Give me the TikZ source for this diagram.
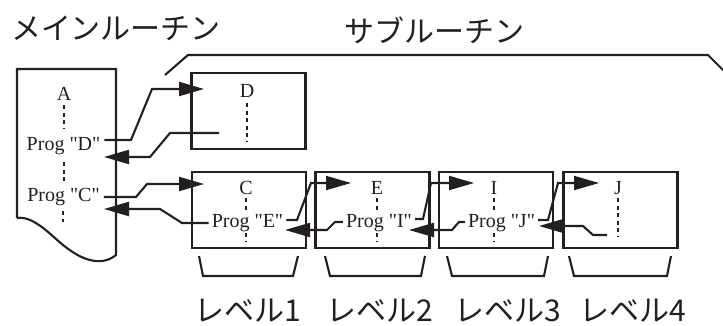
\documentclass[tikz,border=0pt]{standalone}
\usepackage{fontspec}
\setmainfont{Liberation Serif}[Ligatures=TeXOff]
\newfontfamily\jp{Noto Sans CJK JP}
\usetikzlibrary{arrows.meta}
\definecolor{ink}{HTML}{231F20}
\tikzset{
  ln/.style={draw=ink, line width=2.1pt, line join=miter},
  arr/.style={ln, -{Triangle[length=25pt,width=14pt]}},
  dots/.style={draw=ink, line width=2.1pt, dash pattern=on 4pt off 3.5pt},
  txt/.style={inner sep=0pt, anchor=base, font=\fontsize{20}{22}\selectfont, text=ink},
  jtxt/.style={inner sep=0pt, font=\jp\fontsize{30}{32}\selectfont, text=ink},
  subbox/.style={ln, minimum width=114pt, minimum height=76pt, inner sep=0pt}
}
\begin{document}
\begin{tikzpicture}[x=1pt,y=-1pt]
\useasboundingbox (0,0) rectangle (723,325);
% headings
\node[jtxt] (hmain) at (116,28) {メインルーチン};
\node[jtxt] (hsub) at (434,30) {サブルーチン};
% top bracket
\draw[ln] (165,75) -- (188,55) -- (708,55) -- (726,73);
% main routine sheet
\draw[ln] (17,218) -- (17,69) -- (116,69) -- (116,255)
  .. controls (100,268) and (80,258) .. (67,248)
  .. controls (55,240) and (35,215) .. (17,218);
\node[txt] (tA) at (64,100) {A};
\node[txt] (pD) at (63.5,150) {Prog "D"};
\node[txt] (pC) at (63.5,201) {Prog "C"};
\draw[dots] (64,105) -- (64,129);
\draw[dots] (64,162) -- (64,181);
\draw[dots] (63,211) -- (63,222);
% subroutine boxes
\node[subbox] (bD) at (248.5,111) {};
\node[subbox] (bC) at (249,210) {};
\node[subbox] (bE) at (372.5,210) {};
\node[subbox] (bI) at (496,210) {};
\node[subbox] (bJ) at (620.5,210) {};
% box D
\node[txt] (tD) at (247,97) {D};
\draw[dots] (247,103) -- (247,141);
% box C
\node[txt] (tC) at (246,194) {C};
\node[txt] (pE) at (247.5,227) {Prog "E"};
\draw[dots] (246,198) -- (246,210);
\draw[dots] (246,233) -- (246,241);
% box E
\node[txt] (tE) at (377,194) {E};
\node[txt] (pI) at (379,227) {Prog "I"};
\draw[dots] (377,198) -- (377,210);
\draw[dots] (377,233) -- (377,241);
% box I
\node[txt] (tI) at (494,194) {I};
\node[txt] (pJ) at (501.5,227) {Prog "J"};
\draw[dots] (494,198) -- (494,210);
\draw[dots] (494,233) -- (494,241);
% box J
\node[txt] (tJ) at (618,194) {J};
\draw[dots] (618,198) -- (618,236);
% arrows
\draw[arr] (pD.east |- 0,140) ++(4,0) -- (131,140) -- (152,89) -- (204,89);
\draw[arr] (219,133) -- (170,133) -- (150,157) -- (104,157);
\draw[arr] (pC.east |- 0,197) ++(4,0) -- (136,197) -- (147,184) -- (204,184);
\draw[arr] (pE.west |- 0,223) ++(-3,0) -- (182,223) -- (160,209) -- (104,209);
\draw[arr] (pE.east |- 0,220) ++(3,0) -- (297,220) -- (311,183) -- (351,183);
\draw[arr] (pI.west |- 0,222) ++(-3,0) -- (335,222) -- (327,230) -- (285,230);
\draw[arr] (pI.east |- 0,219) ++(3,0) -- (423,219) -- (431,183) -- (474,183);
\draw[arr] (pJ.west |- 0,222) ++(-3,0) -- (459,222) -- (452,230) -- (409,230);
\draw[arr] (pJ.east |- 0,220) ++(3,0) -- (548,220) -- (558,183) -- (599,183);
\draw[arr] (607,235) -- (593,235) -- (583,226) -- (539,226);
% level brackets
\draw[ln] (199,256) -- (203,276) -- (293,276) -- (298,256);
\draw[ln] (325,256) -- (330,276) -- (421,276) -- (425,256);
\draw[ln] (447,256) -- (452,276) -- (544,276) -- (548,256);
\draw[ln] (569,256) -- (574,276) -- (667,276) -- (671,256);
% level labels
\node[jtxt] (l1) at (248,311) {レベル1};
\node[jtxt] (l2) at (380,311) {レベル2};
\node[jtxt] (l3) at (508,311) {レベル3};
\node[jtxt] (l4) at (633,311) {レベル4};
\end{tikzpicture}
\end{document}
